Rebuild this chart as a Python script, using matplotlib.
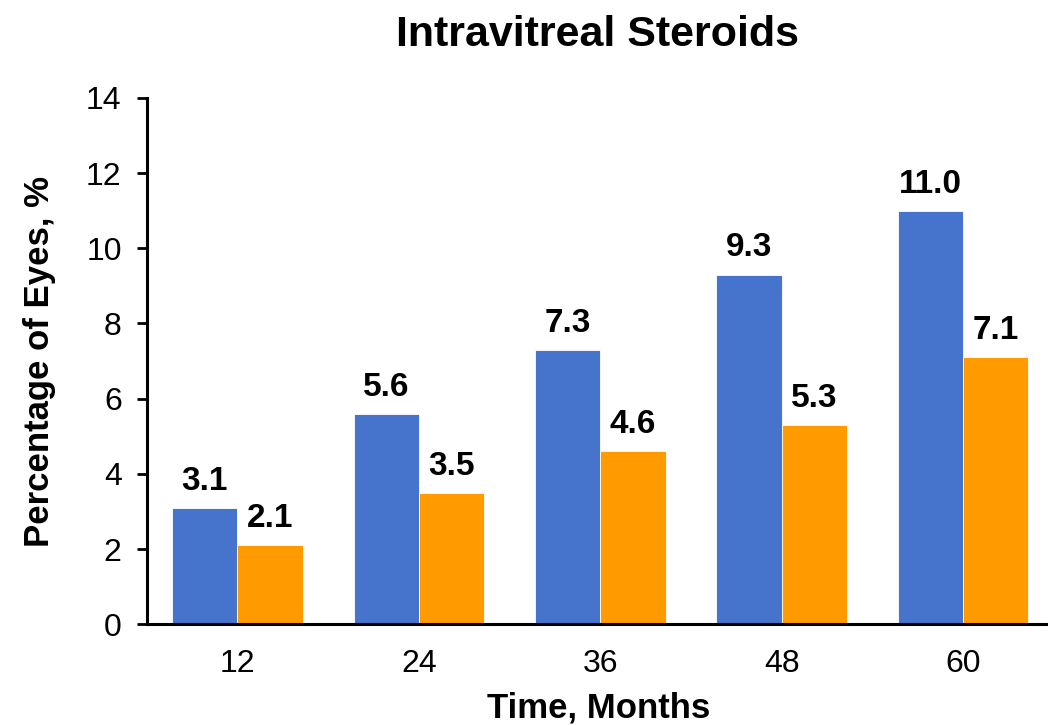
import matplotlib
matplotlib.use('Agg')
import matplotlib.pyplot as plt
import numpy as np

plt.rcParams['font.family'] = ['Liberation Sans', 'DejaVu Sans']

months = ['12', '24', '36', '48', '60']
series_a = [3.1, 5.6, 7.3, 9.3, 11.0]
series_b = [2.1, 3.5, 4.6, 5.3, 7.1]
y_ticks = [0, 2, 4, 6, 8, 10, 12, 14]

BLUE, ORANGE = '#4674CC', '#FF9B00'

fig = plt.figure(figsize=(10.48, 7.25), dpi=100)
ax = fig.add_axes([0.140, 0.139, 0.862, 0.726])

x = np.arange(len(months))
w = 0.36
bars_a = ax.bar(x - w / 2, series_a, w, color=BLUE, edgecolor='white', linewidth=0.6)
bars_b = ax.bar(x + w / 2, series_b, w, color=ORANGE, edgecolor='white', linewidth=0.6)

for bars, vals in ((bars_a, series_a), (bars_b, series_b)):
    for b, v in zip(bars, vals):
        ax.annotate(f'{v:.1f}', (b.get_x() + b.get_width() / 2, v),
                    xytext=(0, 8), textcoords='offset points',
                    ha='center', va='bottom', fontsize=24, fontweight='bold')

ax.set_xlim(-0.5, 4.48)
ax.set_ylim(0, 14)
ax.set_yticks(y_ticks)
ax.set_xticks(x)
ax.set_xticklabels(months)
ax.tick_params(axis='y', direction='out', length=7, width=2, labelsize=23, pad=11)
ax.tick_params(axis='x', length=0, labelsize=23, pad=18)
for s in ('top', 'right'):
    ax.spines[s].set_visible(False)
for s in ('left', 'bottom'):
    ax.spines[s].set_linewidth(2.2)

ax.set_ylabel('Percentage of Eyes, %', fontsize=25, fontweight='bold', labelpad=22)
ax.set_xlabel('Time, Months', fontsize=25, fontweight='bold', labelpad=9)
fig.suptitle('Intravitreal Steroids', x=0.57, y=0.98, fontsize=31, fontweight='bold')

fig.savefig('out.png', dpi=100)
